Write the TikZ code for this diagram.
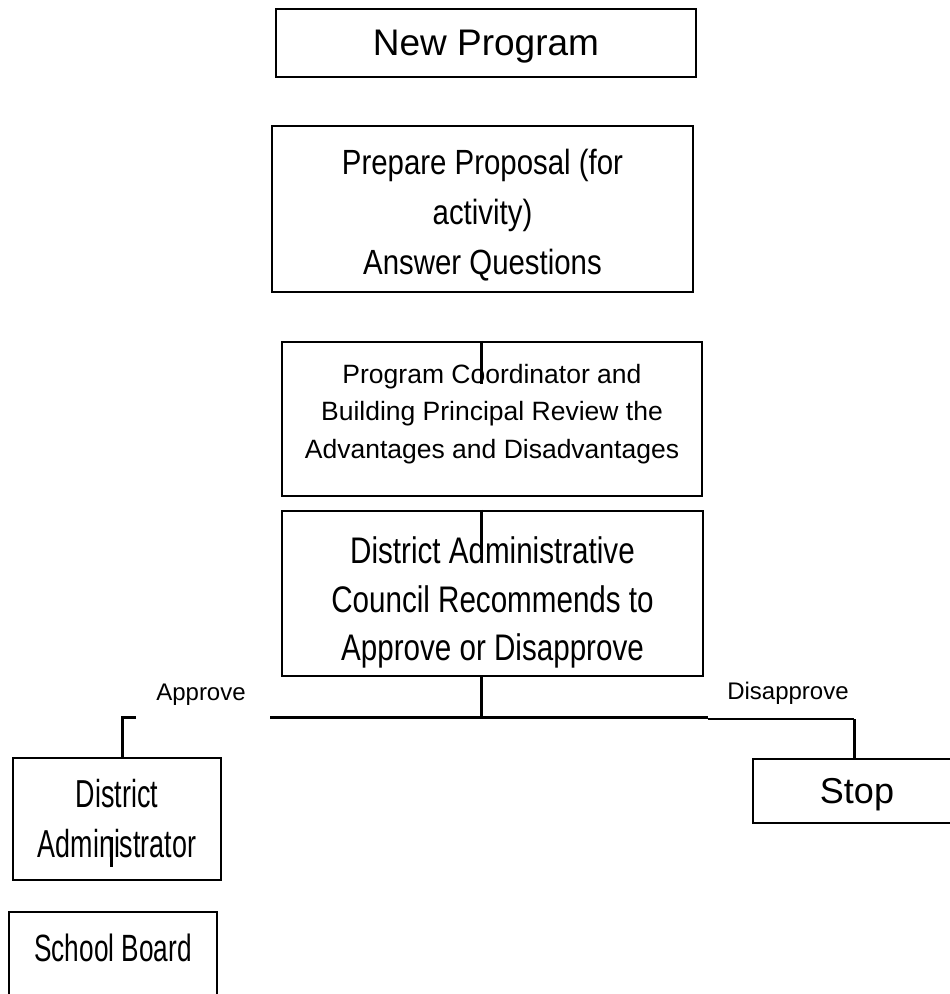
\documentclass[tikz,border=0pt]{standalone}
\usepackage{fontspec}
\setmainfont{Liberation Sans}
\newfontfamily\narrowfont[FakeStretch=0.84]{Liberation Sans}
\newfontfamily\condfont[FakeStretch=0.8]{Liberation Sans}
\newfontfamily\tightfont[FakeStretch=0.69]{Liberation Sans}
\usepackage{tikz}

\begin{document}
\begin{tikzpicture}[x=1pt, y=-1pt,
    box/.style={rectangle, draw, line width=2.2pt, inner sep=0pt, align=center},
    link/.style={line width=3pt},
    thinlink/.style={line width=1.6pt},
    tag/.style={font=\fontsize{24}{28}\selectfont}
]
\clip (0,0) rectangle (950,994);

% Main column
\node[box, minimum width=420pt, minimum height=68pt, text depth=0pt, font=\fontsize{37}{44}\selectfont] (newprog) at (486,43) {New Program};
\node[box, minimum width=421pt, minimum height=166pt, font=\narrowfont\fontsize{35}{50}\selectfont] (proposal) at (482.5,209) {\rule{0pt}{37.6pt}Prepare Proposal (for\\activity)\\Answer Questions};
\node[box, minimum width=420pt, minimum height=154pt, font=\fontsize{26.5}{37.5}\selectfont] (review) at (492,419) {Program Coordinator and\\Building Principal Review the\\Advantages and Disadvantages\rule[-15.6pt]{0pt}{0pt}};
\node[box, minimum width=421pt, minimum height=165pt, font=\condfont\fontsize{37}{48.5}\selectfont] (council) at (492.5,593.5) {\rule{0pt}{45pt}District Administrative\\Council Recommends to\\Approve or Disapprove};

% Outcomes
\node[box, minimum width=208pt, minimum height=122pt, font=\tightfont\fontsize{39}{50}\selectfont] (distadmin) at (117,819) {District\\Administrator};
\node[box, anchor=north, minimum width=208pt, text height=49pt, text depth=60pt, font=\tightfont\fontsize{38}{46}\selectfont] (board) at (113,911) {School Board};
\node[box, minimum width=208pt, minimum height=64pt, text depth=0pt, font=\fontsize{36}{42}\selectfont] (stop) at (857,791) {Stop};

% Labels
\node[tag] (approve) at (201,695) {Approve};
\node[tag] (disapprove) at (788,693) {Disapprove};

% Split line
\coordinate (split) at (481,717);
\coordinate (apleft) at (270,717);
\coordinate (dpmid) at (708,717);
\coordinate (dpright) at (854,719);
\coordinate (apcorner) at (122,717);
\coordinate (aptip) at (136,717);

\draw[link] (council.south -| split) -- (split);
\draw[link] (apleft) -- (dpmid);
\draw[thinlink] (dpmid |- dpright) -- (dpright);
\draw[link] (dpright) -- (stop.north -| dpright);
\draw[link] (aptip) -- (apcorner) -- (distadmin.north -| apcorner);

% Short stubs
\coordinate (tick) at (111,837);
\draw[link] (review.north -| split) -- ++(0,43);
\draw[link] (council.north -| split) -- ++(0,45);
\draw[link] (tick) -- ++(0,30);

\end{tikzpicture}
\end{document}
